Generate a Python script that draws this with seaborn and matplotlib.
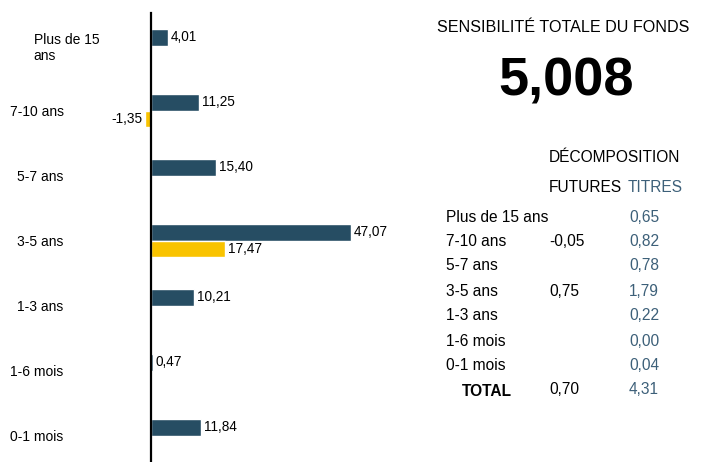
import matplotlib
matplotlib.use("Agg")
import matplotlib.pyplot as plt
import matplotlib.transforms as mtransforms
import seaborn as sns
import pandas as pd
import numpy as np

# data
categories = ['Plus de 15\nans', '7-10 ans', '5-7 ans', '3-5 ans', '1-3 ans', '1-6 mois', '0-1 mois']
titres = [4.01, 11.25, 15.40, 47.07, 10.21, 0.47, 11.84]
futures = [np.nan, -1.35, np.nan, 17.47, np.nan, np.nan, np.nan]

table_rows = ['Plus de 15 ans', '7-10 ans', '5-7 ans', '3-5 ans', '1-3 ans', '1-6 mois', '0-1 mois']
table_futures = ['', '-0,05', '', '0,75', '', '', '']
table_titres = ['0,65', '0,82', '0,78', '1,79', '0,22', '0,00', '0,04']
total_futures = '0,70'
total_titres = '4,31'
sensibilite = '5,008'

dark = '#264d63'
yellow = '#f9c300'
steel = '#3d6079'

df = pd.DataFrame({
    'cat': categories * 2,
    'serie': ['Titres'] * 7 + ['Futures'] * 7,
    'val': titres + futures,
})

sns.set_style('white')
plt.rcParams['font.family'] = ['Liberation Sans', 'DejaVu Sans']
plt.rcParams['text.color'] = 'black'
plt.rcParams['ytick.color'] = 'black'

W, H = 720, 462
fig = plt.figure(figsize=(7.2, 4.62), dpi=100)
px_per_unit = 200 / 47.07
ax_left, ax_right = 130, 430
ax = fig.add_axes([ax_left / W, -6 / H, (ax_right - ax_left) / W, 455 / H])

sns.barplot(data=df, y='cat', x='val', hue='serie', order=categories,
            hue_order=['Titres', 'Futures'], palette=[dark, yellow],
            saturation=1, width=0.5, gap=0, orient='h', ax=ax, legend=False)

xmin = -(151 - ax_left) / px_per_unit
xmax = xmin + (ax_right - ax_left) / px_per_unit
ax.set_xlim(xmin, xmax)
ax.set_ylim(6.5, -0.5)

for cont in ax.containers:
    ax.bar_label(cont, fmt=lambda v: f"{v:.2f}".replace('.', ','), padding=2,
                 fontsize=9.8, color='black')

for s in ['top', 'right', 'bottom']:
    ax.spines[s].set_visible(False)
ax.spines['left'].set_position(('data', 0))
ax.spines['left'].set_color('black')
ax.spines['left'].set_linewidth(1.6)
ax.set_xticks([])
ax.set_xlabel('')
ax.set_ylabel('')
ax.tick_params(axis='y', length=0, pad=63, labelsize=10, labelcolor='black')
labels = ax.get_yticklabels()
labels[0].set_horizontalalignment('left')
labels[0].set_multialignment('left')
labels[0].set_transform(labels[0].get_transform() +
                        mtransforms.ScaledTranslation(-30 / 100, 0, fig.dpi_scale_trans))

# right panel
def ftext(x, y, s, **kw):
    fig.text(x / W, 1 - y / H, s, va='center', **kw)

fs = 11.2
ftext(563, 28, 'SENSIBILITÉ TOTALE DU FONDS', ha='center', fontsize=11.6)
ftext(566, 81, sensibilite, ha='center', fontsize=39, fontweight='bold')
ftext(549, 157, 'DÉCOMPOSITION', ha='left', fontsize=fs)
ftext(549, 187, 'FUTURES', ha='left', fontsize=fs)
ftext(628, 187, 'TITRES', ha='left', fontsize=fs, color=steel)

row_y = [217, 241, 266, 292, 316, 341, 365]
for y, lab, fu, ti in zip(row_y, table_rows, table_futures, table_titres):
    ftext(446, y, lab, ha='left', fontsize=fs)
    if fu:
        ftext(549, y, fu, ha='left', fontsize=fs)
    ftext(629, y, ti, ha='left', fontsize=fs, color=steel)
ftext(462, 391, 'TOTAL', ha='left', fontsize=fs, fontweight='bold')
ftext(549, 390, total_futures, ha='left', fontsize=fs)
ftext(629, 390, total_titres, ha='left', fontsize=fs, color=steel)

fig.savefig('out.png', dpi=100)
